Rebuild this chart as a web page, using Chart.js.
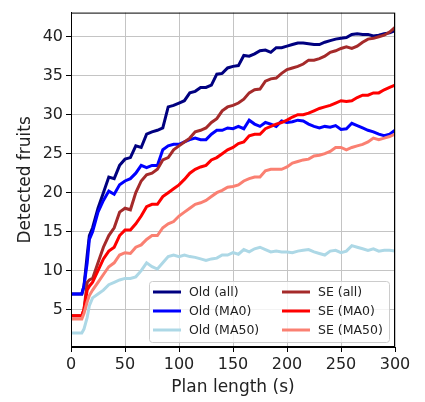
<!DOCTYPE html>
<html>
<head>
<meta charset="utf-8">
<script src="https://cdn.jsdelivr.net/npm/chart.js@4"></script>
<style>
  html, body { margin: 0; padding: 0; background: #fff; }
  #wrap { width: 425px; height: 402px; }
</style>
</head>
<body>
<div id="wrap"><canvas id="chart" width="425" height="402"></canvas></div>
<script>
// === Data ===
const times = [0, 5, 10, 12, 15, 17, 20, 25, 30, 35, 40, 45, 50, 55, 60, 65, 70, 75, 80, 85, 90, 95, 100,
  105, 110, 115, 120, 125, 130, 135, 140, 145, 150, 155, 160, 165, 170, 175, 180, 185, 190, 195, 200,
  205, 210, 215, 220, 225, 230, 235, 240, 245, 250, 255, 260, 265, 270, 275, 280, 285, 290, 295, 300];

const oldAll = [7, 7, 7, 8, 12, 14.5, 15.5, 18, 20, 22, 21.8, 23.5, 24.3, 24.5, 26, 25.8, 27.5, 27.8, 28, 28.3,
  31, 31.2, 31.5, 31.8, 32.8, 33, 33.5, 33.5, 33.8, 35.2, 35.3, 36, 36.2, 36.3, 37.6, 37.5, 37.8, 38.2, 38.3,
  38, 38.6, 38.6, 38.8, 39, 39.2, 39.2, 39.1, 39, 39, 39.3, 39.5, 39.7, 39.8, 39.9, 40.3, 40.4, 40.3, 40.3,
  40.1, 40.2, 40.4, 40.5, 40.8];
const oldMa0 = [7, 7, 7, 8, 11, 14, 15, 17.5, 19, 20.2, 19.8, 21, 21.5, 21.8, 22.5, 23.5, 23.2, 23.5, 23.5, 25.5,
  26, 26.2, 26.2, 26.5, 26.8, 27, 26.8, 26.8, 27.5, 28, 28, 28.3, 28.2, 28.5, 28.2, 29.3, 28.8, 28.5, 29,
  28.8, 28.5, 29.2, 29, 29.1, 29.3, 29.2, 28.8, 28.5, 28.3, 28.5, 28.4, 28.6, 28.1, 28.2, 28.9, 28.6, 28.3,
  28, 27.8, 27.5, 27.3, 27.5, 28];
const oldMa50 = [2, 2, 2, 2.5, 4, 5.5, 6.5, 7, 7.5, 8.2, 8.5, 8.8, 9, 9, 9.2, 10, 11, 10.5, 10.2, 11,
  11.8, 12, 11.8, 12, 11.8, 11.7, 11.5, 11.3, 11.5, 11.6, 12, 12, 12.3, 12.1, 12.7, 12.4, 12.8, 13, 12.7,
  12.4, 12.5, 12.4, 12.4, 12.3, 12.5, 12.6, 12.7, 12.4, 12.2, 12, 12.5, 12.6, 12.3, 12.5, 13.2, 13, 12.8,
  12.6, 12.8, 12.5, 12.6, 12.6, 12.5];
const seAll = [4.2, 4.2, 4.2, 5, 8.5, 8.8, 9, 11, 13, 14.5, 15.5, 17.5, 18, 17.8, 20, 21.5, 22.3, 22.5, 23, 24.2,
  24.5, 25.5, 26, 26.5, 27, 27.8, 28, 28.3, 29, 29.5, 30.5, 31, 31.2, 31.5, 32, 32.8, 33.2, 33.3, 34.3,
  34.6, 34.7, 35.3, 35.8, 36, 36.2, 36.5, 37, 37, 37.2, 37.5, 38, 38.2, 38.5, 38.7, 38.5, 38.8, 39.3,
  39.7, 39.8, 40, 40.2, 40.6, 41.2];
const seMa0 = [4.2, 4.2, 4.2, 5, 7.5, 8, 8.5, 10, 11.5, 12.5, 13, 14.5, 15.2, 15.2, 16, 17, 18.2, 18.5, 18.5, 19.5,
  20, 20.5, 21, 21.7, 22.5, 23, 23.3, 23.5, 24.2, 24.5, 25, 25.5, 25.8, 26.3, 26.5, 27.3, 27.5, 27.5, 28.2,
  28.5, 28.8, 29, 29.3, 29.7, 30, 30, 30.2, 30.5, 30.8, 31, 31.2, 31.5, 31.8, 31.7, 31.8, 32.2, 32.5,
  32.5, 32.8, 32.8, 33.2, 33.5, 33.8];
const seMa50 = [3.8, 3.8, 3.8, 4.5, 6, 6.8, 7.5, 8.5, 9.5, 10.5, 11, 12, 12.3, 12.2, 13, 13.3, 14, 14.5, 14.5, 15.5,
  16, 16.3, 17, 17.5, 18, 18.5, 18.7, 19, 19.5, 20, 20.3, 20.7, 20.8, 21, 21.5, 21.8, 22, 22, 22.8,
  23, 23, 23, 23.3, 23.8, 24, 24.2, 24.3, 24.7, 24.8, 25, 25.3, 25.8, 25.8, 25.5, 25.8, 26, 26.2,
  26.5, 27, 26.8, 27, 27.2, 27.5];

const seriesLabels = ["Old (all)", "Old (MA0)", "Old (MA50)", "SE (all)", "SE (MA0)", "SE (MA50)"];
const seriesColors = ["#000080", "#0000ff", "#add8e6", "#a52a2a", "#ff0000", "#fa8072"];
const seriesValues = [oldAll, oldMa0, oldMa50, seAll, seMa0, seMa50];

const xTicks = [0, 50, 100, 150, 200, 250, 300];
const yTicks = [5, 10, 15, 20, 25, 30, 35, 40];

const FONT = "'DejaVu Sans', sans-serif";

// Frame + legend drawn inside the plot area (matplotlib style)
const framePlugin = {
  id: "frameLegend",
  afterDraw(chart) {
    const { ctx, chartArea: a } = chart;
    ctx.save();
    ctx.strokeStyle = "#000";
    ctx.lineWidth = 1;
    ctx.strokeRect(a.left + 0.5, a.top + 0.5, a.right - a.left - 1, a.bottom - a.top - 1);

    // legend box
    const bx = 149, by = 281, bw = 240, bh = 61;
    ctx.fillStyle = "rgba(255,255,255,0.8)";
    ctx.strokeStyle = "#cccccc";
    ctx.beginPath();
    ctx.roundRect(bx + 0.5, by + 0.5, bw, bh, 3);
    ctx.fill();
    ctx.stroke();

    ctx.font = "12.5px " + FONT;
    ctx.textBaseline = "middle";
    chart.data.datasets.forEach((ds, i) => {
      const col = Math.floor(i / 3);
      const row = i % 3;
      const lx = col === 0 ? 153 : 282;
      const ly = 292 + row * 19;
      ctx.strokeStyle = ds.borderColor;
      ctx.lineWidth = 3;
      ctx.beginPath();
      ctx.moveTo(lx, ly);
      ctx.lineTo(lx + 28, ly);
      ctx.stroke();
      ctx.fillStyle = "#222";
      ctx.fillText(ds.label, lx + 36, ly + 1);
    });
    ctx.restore();
  },
};

const datasets = seriesLabels.map((label, i) => ({
  label: label,
  data: times.map((t, j) => ({ x: t, y: seriesValues[i][j] })),
  borderColor: seriesColors[i],
  backgroundColor: seriesColors[i],
  borderWidth: 3,
  pointRadius: 0,
  tension: 0,
  order: 6 - i,
}));

new Chart(document.getElementById("chart").getContext("2d"), {
  type: "line",
  data: { datasets },
  options: {
    responsive: false,
    animation: false,
    layout: { padding: { top: 2, right: 30, left: 15, bottom: 0 } },
    plugins: { legend: { display: false }, tooltip: { enabled: false } },
    scales: {
      x: {
        type: "linear",
        min: 0,
        max: 300,
        afterBuildTicks: (s) => { s.ticks = xTicks.map((v) => ({ value: v })); },
        afterFit: (s) => { s.height = 55; },
        grid: { color: "#c4c4c4", lineWidth: 1, tickColor: "#000", tickLength: 5 },
        border: { display: true, color: "#000" },
        ticks: { color: "#222", font: { family: FONT, size: 16 }, padding: 3, maxRotation: 0 },
        title: { display: true, text: "Plan length (s)", color: "#222", font: { family: FONT, size: 17 }, padding: { top: 0, bottom: 4 } },
      },
      y: {
        type: "linear",
        min: 0.2,
        max: 43.1,
        afterBuildTicks: (s) => { s.ticks = yTicks.map((v) => ({ value: v })); },
        afterFit: (s) => { s.width = 56; },
        grid: { color: "#c4c4c4", lineWidth: 1, tickColor: "#000", tickLength: 5 },
        border: { display: true, color: "#000" },
        ticks: { color: "#222", font: { family: FONT, size: 16 }, padding: 3 },
        title: { display: true, text: "Detected fruits", color: "#222", font: { family: FONT, size: 17 }, padding: { top: 0, bottom: 4 } },
      },
    },
  },
  plugins: [framePlugin],
});
</script>
</body>
</html>
